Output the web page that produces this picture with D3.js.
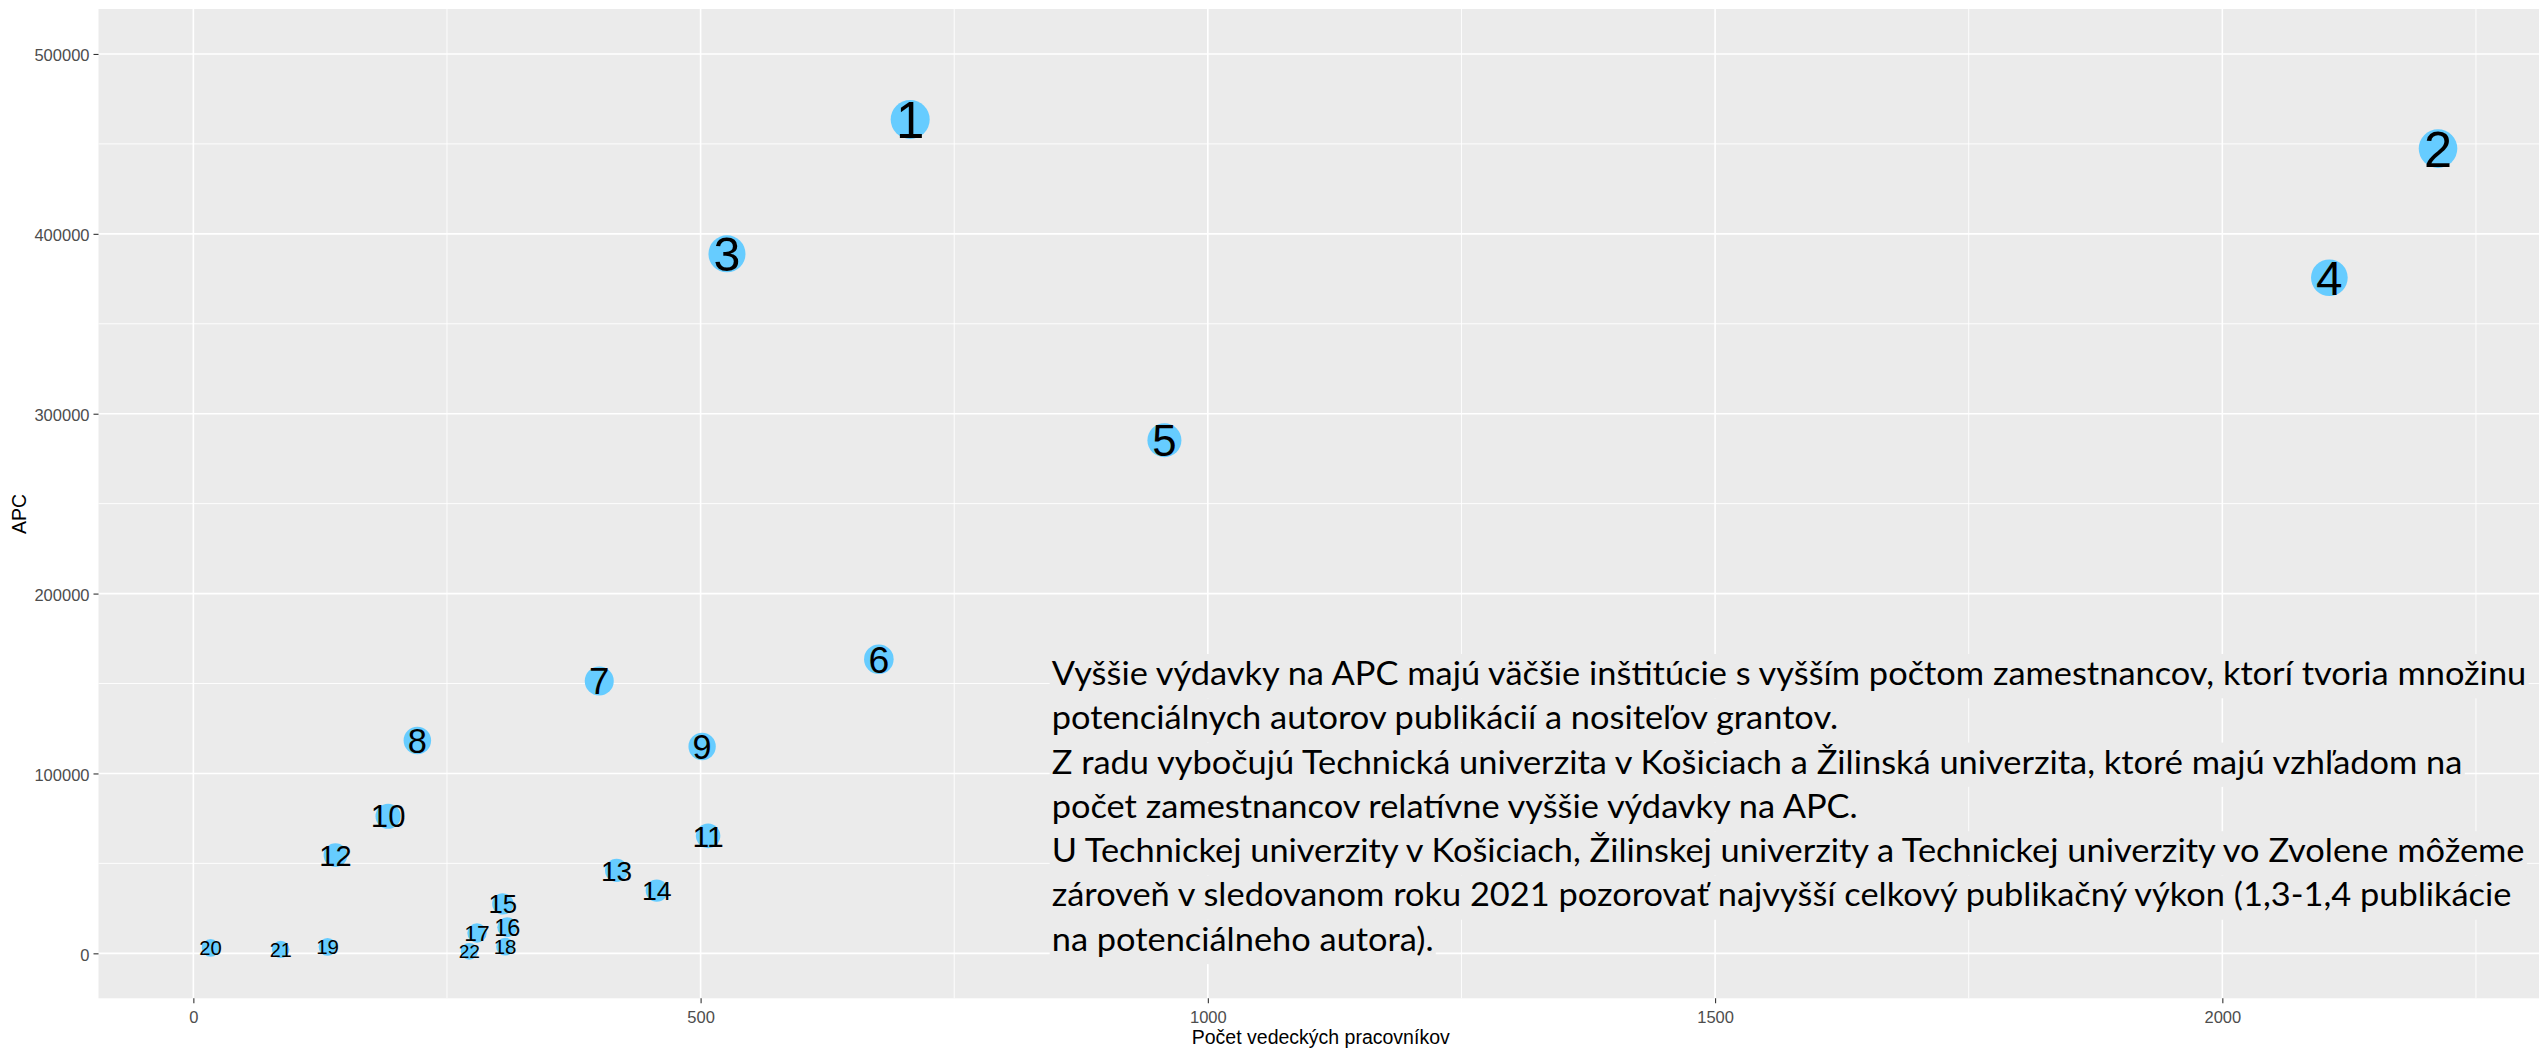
<!DOCTYPE html>
<html>
<head>
<meta charset="utf-8">
<script src="https://cdn.jsdelivr.net/npm/d3@7"></script>
<style>
  html, body { margin: 0; padding: 0; background: #fff; }
  svg { display: block; }
</style>
</head>
<body>
<div id="chart"></div>
<script>
// data (labels are the APC rank)
var labels = ["1","2","3","4","5","6","7","8","9","10","11","12","13","14","15","16","17","18","19","20","21","22"];
var pocet = [706.6, 2212.6, 526, 2105.5, 957.2, 675.7, 400.1, 220.8, 501.5, 192, 507.4, 140.1, 417.2, 456.8, 305.1, 309.4, 279.6, 307.3, 132.3, 17, 86.1, 272];
var apc = [463600, 447400, 388900, 375600, 285300, 163500, 151400, 118300, 115000, 76200, 65300, 54600, 46100, 34900, 27500, 14500, 11300, 3700, 3600, 3000, 2200, 1100];

var xTicks = [0, 500, 1000, 1500, 2000];
var xMinor = [250, 750, 1250, 1750, 2250];
var yTicks = [0, 100000, 200000, 300000, 400000, 500000];
var yMinor = [50000, 150000, 250000, 350000, 450000];

var xTitle = "Počet vedeckých pracovníkov";
var yTitle = "APC";

var noteLines = [
  "Vyššie výdavky na APC majú väčšie inštitúcie s vyšším počtom zamestnancov, ktorí tvoria množinu",
  "potenciálnych autorov publikácií a nositeľov grantov.",
  "Z radu vybočujú Technická univerzita v Košiciach a Žilinská univerzita, ktoré majú vzhľadom na",
  "počet zamestnancov relatívne vyššie výdavky na APC.",
  "U Technickej univerzity v Košiciach, Žilinskej univerzity a Technickej univerzity vo Zvolene môžeme",
  "zároveň v sledovanom roku 2021 pozorovať najvyšší celkový publikačný výkon (1,3-1,4 publikácie",
  "na potenciálneho autora)."
];

var W = 2539, H = 1050;
var panel = {left: 98.5, right: 2549, top: 9, bottom: 998.3};

var svg = d3.select("#chart").append("svg")
  .attr("width", W)
  .attr("height", H);

svg.append("rect").attr("width", W).attr("height", H).attr("fill", "#fff");

var x = d3.scaleLinear().domain([-93.5, 2322]).range([panel.left, panel.right]);
var y = d3.scaleLinear().domain([-25000, 525000]).range([panel.bottom, panel.top]);
var maxApc = d3.max(apc);
var rScale = d3.scaleSqrt().domain([0, maxApc]).range([7.9, 19.5]);
var fScale = d3.scaleSqrt().domain([0, maxApc]).range([17.5, 51]);

// panel + grid
svg.append("rect")
  .attr("x", panel.left).attr("y", panel.top)
  .attr("width", panel.right - panel.left)
  .attr("height", panel.bottom - panel.top)
  .attr("fill", "#EBEBEB");

var grid = svg.append("g");
grid.selectAll(".ymin").data(yMinor).enter().append("line")
  .attr("x1", panel.left).attr("x2", panel.right)
  .attr("y1", d => y(d)).attr("y2", d => y(d))
  .attr("stroke", "#fff").attr("stroke-width", 0.9);
grid.selectAll(".xmin").data(xMinor).enter().append("line")
  .attr("y1", panel.top).attr("y2", panel.bottom)
  .attr("x1", d => x(d)).attr("x2", d => x(d))
  .attr("stroke", "#fff").attr("stroke-width", 0.9);
grid.selectAll(".ymaj").data(yTicks).enter().append("line")
  .attr("x1", panel.left).attr("x2", panel.right)
  .attr("y1", d => y(d)).attr("y2", d => y(d))
  .attr("stroke", "#fff").attr("stroke-width", 1.6);
grid.selectAll(".xmaj").data(xTicks).enter().append("line")
  .attr("y1", panel.top).attr("y2", panel.bottom)
  .attr("x1", d => x(d)).attr("x2", d => x(d))
  .attr("stroke", "#fff").attr("stroke-width", 1.6);

// axes
var xAxis = svg.append("g")
  .attr("transform", "translate(0," + panel.bottom + ")")
  .call(d3.axisBottom(x).tickValues(xTicks).tickSize(5).tickPadding(4).tickFormat(d3.format("d")));
var yAxis = svg.append("g")
  .attr("transform", "translate(" + panel.left + ",0)")
  .call(d3.axisLeft(y).tickValues(yTicks).tickSize(5).tickPadding(4).tickFormat(d3.format("d")));
[xAxis, yAxis].forEach(function (g) {
  g.select(".domain").remove();
  g.selectAll(".tick line").attr("stroke", "#333").attr("stroke-width", 1.1);
  g.selectAll(".tick text")
    .attr("fill", "#4D4D4D")
    .style("font-family", "'Liberation Sans', Arial, sans-serif")
    .style("font-size", "16.5px");
});
xAxis.selectAll(".tick text").attr("dy", "0.95em");
yAxis.selectAll(".tick text").attr("dy", "0.42em");

svg.append("text")
  .attr("x", (panel.left + 2539) / 2 + 2)
  .attr("y", 1044)
  .attr("text-anchor", "middle")
  .style("font-family", "'Liberation Sans', Arial, sans-serif")
  .style("font-size", "19.5px")
  .text(xTitle);

svg.append("text")
  .attr("transform", "translate(26,514) rotate(-90)")
  .attr("text-anchor", "middle")
  .style("font-family", "'Liberation Sans', Arial, sans-serif")
  .style("font-size", "19.5px")
  .text(yTitle);

// points then labels
var pts = labels.map(function (l, i) { return {label: l, x: pocet[i], y: apc[i]}; });

svg.append("g").selectAll("circle").data(pts).enter().append("circle")
  .attr("cx", d => x(d.x))
  .attr("cy", d => y(d.y))
  .attr("r", d => rScale(d.y))
  .attr("fill", "#66CCFF");

svg.append("g").selectAll("text").data(pts).enter().append("text")
  .attr("x", d => x(d.x))
  .attr("y", d => y(d.y))
  .attr("dy", "0.36em")
  .attr("text-anchor", "middle")
  .style("font-family", "'Liberation Sans', Arial, sans-serif")
  .style("font-size", d => fScale(d.y) + "px")
  .attr("fill", "#000")
  .text(d => d.label);

// note box over the panel
var noteX = 1051.7, noteY0 = 685, noteStep = 44.3, noteWidth = 1475;
var bgG = svg.append("g");
var noteG = svg.append("g");
var noteTexts = noteG.selectAll("text").data(noteLines).enter().append("text")
  .attr("x", 0)
  .attr("y", (d, i) => noteY0 + i * noteStep)
  .style("font-family", "Lato, 'Open Sans', sans-serif")
  .style("font-size", "32.5px")
  .attr("fill", "#000")
  .text(d => d);

var widths = [];
noteTexts.each(function () { widths.push(this.getComputedTextLength()); });
var sx = noteWidth / widths[0];
noteG.attr("transform", "translate(" + noteX + ",0) scale(" + sx + ",1)");

bgG.selectAll("rect").data(widths).enter().append("rect")
  .attr("x", noteX - 2)
  .attr("y", (d, i) => noteY0 + i * noteStep - 31)
  .attr("width", d => d * sx + 4)
  .attr("height", noteStep)
  .attr("fill", "#EBEBEB");
</script>
</body>
</html>
